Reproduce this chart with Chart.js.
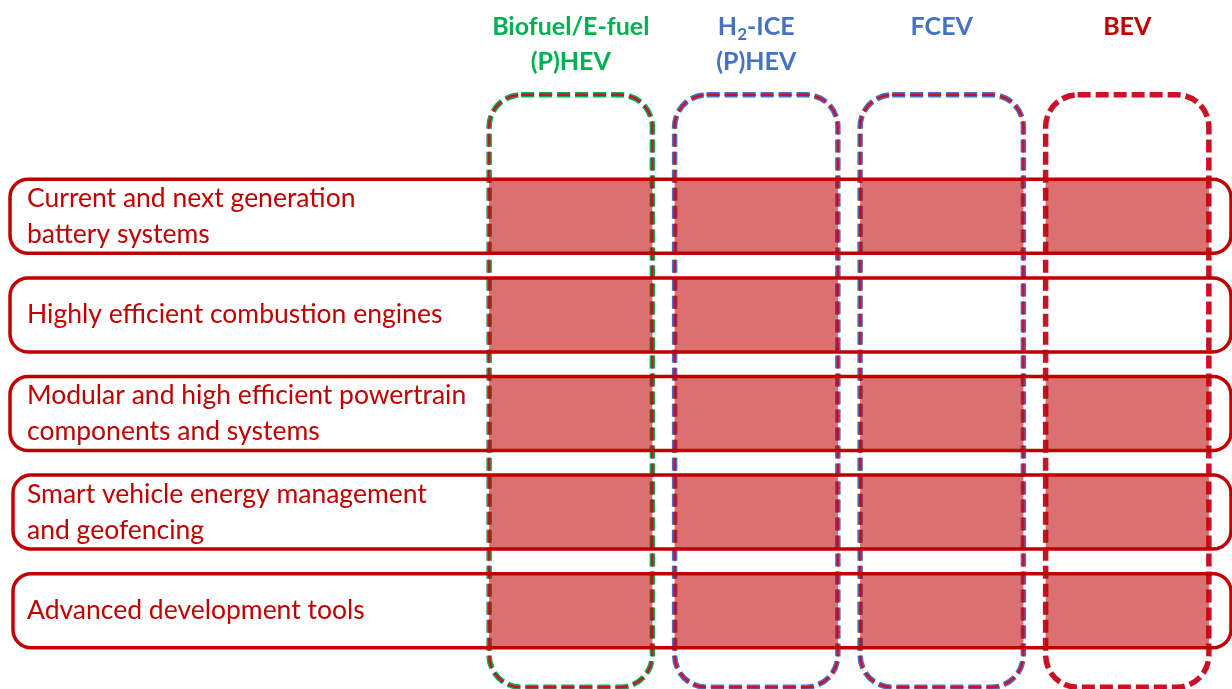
<!DOCTYPE html>
<html>
<head>
<meta charset="utf-8">
<script src="https://cdn.jsdelivr.net/npm/chart.js@4"></script>
<style>
  body { margin: 0; background: #fff; }
</style>
</head>
<body>
<canvas id="matrixChart" width="1232" height="689"></canvas>
<script>
// Columns (vehicle types) and their header lines
const columnHeaders = [['Biofuel/E-fuel', '(P)HEV'], ['H₂-ICE', '(P)HEV'], ['FCEV'], ['BEV']];
const headerColors = ['#00B050', '#4472C4', '#4472C4', '#C00000'];
const boxOutlineColors = ['#00B050', '#4472C4', '#4472C4', null];

// Rows (technology areas)
const rowLabels = [
    ['Current and next generation', 'battery systems'],
    ['Highly efficient combustion engines'],
    ['Modular and high efficient powertrain', 'components and systems'],
    ['Smart vehicle energy management', 'and geofencing'],
    ['Advanced development tools']
];

// 1 = technology relevant for the column
const biofuelRelevant = [1, 1, 1, 1, 1];
const h2iceRelevant = [1, 1, 1, 1, 1];
const fcevRelevant = [1, 0, 1, 1, 1];
const bevRelevant = [1, 0, 1, 1, 1];
const relevance = [biofuelRelevant, h2iceRelevant, fcevRelevant, bevRelevant];

const RED = '#C00000';
const cellInset = [0.06, 0.94];
const HEADER_FONT = 'bold 25px Lato';
const SUB_FONT = 'bold 17px Lato';

function roundRect(ctx, x, y, w, h, r) {
    ctx.beginPath();
    ctx.moveTo(x + r, y);
    ctx.lineTo(x + w - r, y);
    ctx.arcTo(x + w, y, x + w, y + r, r);
    ctx.lineTo(x + w, y + h - r);
    ctx.arcTo(x + w, y + h, x + w - r, y + h, r);
    ctx.lineTo(x + r, y + h);
    ctx.arcTo(x, y + h, x, y + h - r, r);
    ctx.lineTo(x, y + r);
    ctx.arcTo(x, y, x + r, y, r);
    ctx.closePath();
}

// draw header text, "₂" rendered as subscript
function drawHeader(ctx, text, cx, cy) {
    const parts = text.split('₂');
    ctx.font = HEADER_FONT;
    let total = ctx.measureText(parts[0]).width;
    let subW = 0;
    if (parts.length > 1) {
        ctx.font = SUB_FONT;
        subW = ctx.measureText('2').width;
        ctx.font = HEADER_FONT;
        total += subW + ctx.measureText(parts[1]).width;
    }
    let x = cx - total / 2;
    ctx.textAlign = 'left';
    ctx.textBaseline = 'middle';
    ctx.fillText(parts[0], x, cy);
    if (parts.length > 1) {
        x += ctx.measureText(parts[0]).width;
        ctx.font = SUB_FONT;
        ctx.fillText('2', x, cy + 8);
        x += subW;
        ctx.font = HEADER_FONT;
        ctx.fillText(parts[1], x, cy);
    }
}

const matrixPlugin = {
    id: 'matrixPlugin',
    beforeDatasetsDraw(chart) {
        const { ctx, scales: { x, y } } = chart;
        const top = y.getPixelForValue(0) - 121.5;
        const bottom = y.getPixelForValue(rowLabels.length - 1) + 76.5;
        ctx.save();
        columnHeaders.forEach((h, i) => {
            const left = x.getPixelForValue(i + cellInset[0]);
            const right = x.getPixelForValue(i + cellInset[1]);
            ctx.setLineDash([13, 5]);
            if (boxOutlineColors[i]) {
                roundRect(ctx, left, top, right - left, bottom - top, 32);
                ctx.strokeStyle = boxOutlineColors[i];
                ctx.lineWidth = 5.5;
                ctx.stroke();
                roundRect(ctx, left, top, right - left, bottom - top, 32);
                ctx.strokeStyle = '#D0102A';
                ctx.lineWidth = 2.5;
                ctx.stroke();
            } else {
                roundRect(ctx, left, top, right - left, bottom - top, 32);
                ctx.strokeStyle = '#CC1025';
                ctx.lineWidth = 5.5;
                ctx.stroke();
            }
        });
        ctx.restore();
    },
    afterDatasetsDraw(chart) {
        const { ctx, chartArea, scales: { x, y } } = chart;
        ctx.save();
        // row boxes
        const half = 37;
        rowLabels.forEach((r, j) => {
            const cy = y.getPixelForValue(j);
            const left = j >= 3 ? 13 : 10;
            roundRect(ctx, left, cy - half, chartArea.right + 11 - left, half * 2, 18);
            ctx.strokeStyle = RED;
            ctx.lineWidth = 3.5;
            ctx.setLineDash([]);
            ctx.stroke();
        });
        // column headers
        const firstRow = y.getPixelForValue(0);
        columnHeaders.forEach((lines, i) => {
            const cx = x.getPixelForValue(i + 0.5);
            ctx.fillStyle = headerColors[i];
            lines.forEach((t, k) => {
                drawHeader(ctx, t, cx, firstRow - 189.5 + k * 35);
            });
        });
        ctx.restore();
    }
};

const datasets = columnHeaders.map((h, i) => ({
    label: h.join(' '),
    data: relevance[i].map(v => v ? [i + cellInset[0], i + cellInset[1]] : null),
    backgroundColor: 'rgba(192, 0, 0, 0.56)',
    borderWidth: 0,
    grouped: false,
    categoryPercentage: 1,
    barPercentage: 0.75
}));

const ctx = document.getElementById('matrixChart').getContext('2d');
new Chart(ctx, {
    type: 'bar',
    data: {
        labels: rowLabels,
        datasets: datasets
    },
    options: {
        indexAxis: 'y',
        responsive: false,
        animation: false,
        layout: {
            padding: { left: 27, right: 12, top: 167, bottom: 29 }
        },
        plugins: {
            legend: { display: false },
            tooltip: { enabled: false }
        },
        scales: {
            x: {
                type: 'linear',
                min: 0,
                max: 4,
                display: false
            },
            y: {
                grid: { display: false },
                border: { display: false },
                afterFit(scale) {
                    scale.width = 451;
                    scale.paddingTop = 0;
                    scale.paddingBottom = 0;
                },
                ticks: {
                    crossAlign: 'far',
                    color: RED,
                    padding: 0,
                    font: { family: 'Lato', size: 26.5, lineHeight: 1.36 }
                }
            }
        }
    },
    plugins: [matrixPlugin]
});
</script>
</body>
</html>
